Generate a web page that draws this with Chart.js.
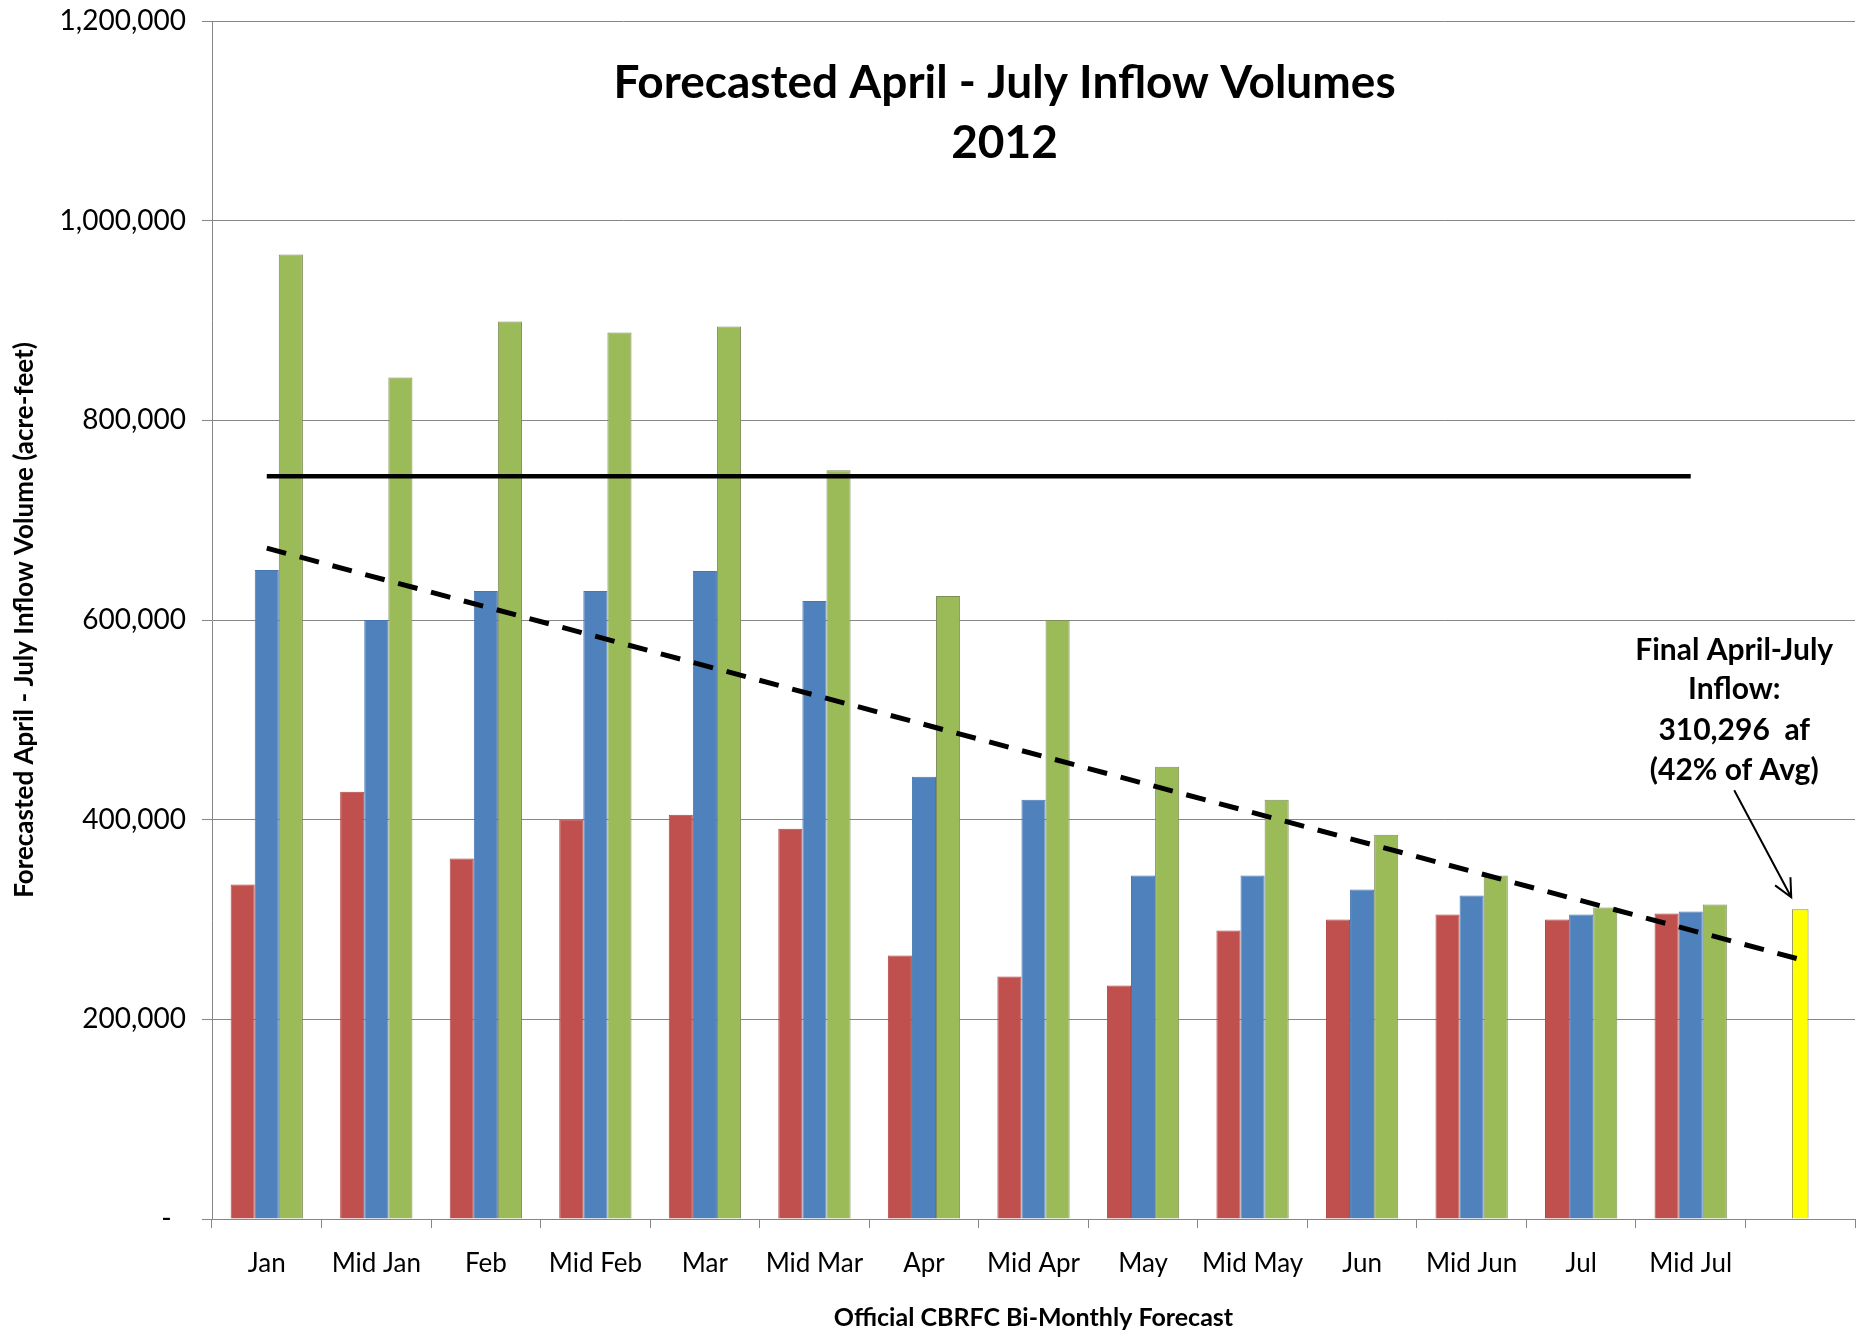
<!DOCTYPE html>
<html>
<head>
<meta charset="utf-8">
<script src="https://cdn.jsdelivr.net/npm/chart.js@4.4.1/dist/chart.umd.min.js"></script>
<style>
  html, body { margin: 0; padding: 0; background: #fff; }
</style>
</head>
<body>
<canvas id="inflow" width="1870" height="1337"></canvas>
<script>
const categories = ["Jan", "Mid Jan", "Feb", "Mid Feb", "Mar", "Mid Mar", "Apr", "Mid Apr",
  "May", "Mid May", "Jun", "Mid Jun", "Jul", "Mid Jul", ""];

// min / most / max probable forecasts (acre-feet)
const minProbable  = [335000, 428000, 361000, 400000, 405000, 391000, 264000, 243000, 234000, 289000, 300000, 305000, 300000, 306000, null];
const mostProbable = [650000, 600000, 629000, 629000, 649000, 619000, 443000, 420000, 344000, 344000, 330000, 324000, 305000, 308000, null];
const maxProbable  = [966000, 843000, 899000, 888000, 894000, 750000, 624000, 600000, 453000, 420000, 385000, 344000, 312000, 315000, null];
const finalInflow  = [null, null, null, null, null, null, null, null, null, null, null, null, null, null, 310296];
const averageInflow = [744000, 744000, 744000, 744000, 744000, 744000, 744000, 744000, 744000, 744000, 744000, 744000, 744000, 744000, null];
const trend = [672000, null, null, null, null, null, null, null, null, null, null, null, null, null, 260000];

const yTicks = [0, 200000, 400000, 600000, 800000, 1000000, 1200000];
const titleLines = ["Forecasted April - July Inflow Volumes", "2012"];
const noteLines = ["Final April-July", "Inflow:", "310,296  af", "(42% of Avg)"];

const FONT = "Lato, 'Open Sans', sans-serif";

// title inside the plot and the note with the arrow at the yellow bar
const overlayText = {
  id: "overlayText",
  afterDraw(chart) {
    const { ctx, chartArea } = chart;
    ctx.save();
    ctx.fillStyle = "#000";
    ctx.textAlign = "center";
    ctx.textBaseline = "middle";
    ctx.font = "bold 46px " + FONT;
    const cx = (chartArea.left + chartArea.right) / 2 - 29;
    ctx.fillText(titleLines[0], cx, chartArea.top + 62);
    ctx.fillText(titleLines[1], cx, chartArea.top + 122);

    const bar = chart.getDatasetMeta(5).data[14];
    ctx.font = "bold 30px " + FONT;
    const noteY = [-259, -220, -179, -139];
    noteLines.forEach((t, i) => ctx.fillText(t, bar.x - 66, bar.y + noteY[i]));

    // arrow
    const x0 = bar.x - 66, y0 = bar.y - 119;
    const x1 = bar.x - 9, y1 = bar.y - 12;
    const ang = Math.atan2(y1 - y0, x1 - x0);
    ctx.strokeStyle = "#000";
    ctx.lineWidth = 2;
    ctx.beginPath();
    ctx.moveTo(x0, y0);
    ctx.lineTo(x1, y1);
    ctx.moveTo(x1 - 20 * Math.cos(ang - 0.45), y1 - 20 * Math.sin(ang - 0.45));
    ctx.lineTo(x1, y1);
    ctx.lineTo(x1 - 20 * Math.cos(ang + 0.45), y1 - 20 * Math.sin(ang + 0.45));
    ctx.stroke();
    ctx.restore();
  }
};

new Chart(document.getElementById("inflow"), {
  type: "bar",
  plugins: [overlayText],
  data: {
    labels: categories,
    datasets: [
      { type: "line", data: averageInflow, borderColor: "#000", borderWidth: 4.5,
        pointRadius: 0, order: 0 },
      { type: "line", data: trend, borderColor: "#000", borderWidth: 5, borderDash: [20, 14],
        pointRadius: 0, spanGaps: true, order: 0 },
      { label: "Min", data: minProbable, backgroundColor: "#C0504D", borderColor: "#B24643", borderWidth: 1, order: 1 },
      { label: "Most", data: mostProbable, backgroundColor: "#4F81BD", borderColor: "#4677B0", borderWidth: 1, order: 1 },
      { label: "Max", data: maxProbable, backgroundColor: "#9BBB59", borderColor: "#7F8F5A", borderWidth: 1, order: 1 },
      { label: "Final", data: finalInflow, backgroundColor: "#FFFF00", borderColor: "#8C8C5A", borderWidth: 1,
        grouped: false, barPercentage: 0.23, order: 1 }
    ]
  },
  options: {
    responsive: false,
    animation: false,
    categoryPercentage: 0.66,
    barPercentage: 1.0,
    layout: { padding: { left: 0, right: 15, top: 21, bottom: 0 } },
    plugins: { legend: { display: false }, tooltip: { enabled: false } },
    scales: {
      x: {
        offset: true,
        grid: { drawOnChartArea: false, tickLength: 9, color: "#868686", offset: true },
        border: { color: "#868686" },
        ticks: { font: { family: FONT, size: 26 }, color: "#000", padding: 20, maxRotation: 0, autoSkip: false },
        title: { display: true, text: "Official CBRFC Bi-Monthly Forecast",
          font: { family: FONT, size: 25, weight: "bold" }, color: "#000", padding: { top: 0, bottom: 4 } },
        afterFit: s => { s.height = 118; s.paddingLeft = 0; s.paddingRight = 0; }
      },
      y: {
        min: 0,
        max: 1200000,
        afterBuildTicks: s => { s.ticks = yTicks.map(v => ({ value: v })); },
        grid: { color: "#868686", tickLength: 10 },
        border: { color: "#868686" },
        ticks: {
          font: { family: FONT, size: 28 }, color: "#000", padding: 16,
          callback: v => v === 0 ? "-  " : v.toLocaleString("en-US")
        },
        title: { display: true, text: "Forecasted April - July Inflow Volume (acre-feet)",
          font: { family: FONT, size: 26, weight: "bold" }, color: "#000", padding: { top: 9, bottom: 0 } },
        afterFit: s => { s.width = 212; s.paddingTop = 0; s.paddingBottom = 0; }
      }
    }
  }
});
</script>
</body>
</html>
